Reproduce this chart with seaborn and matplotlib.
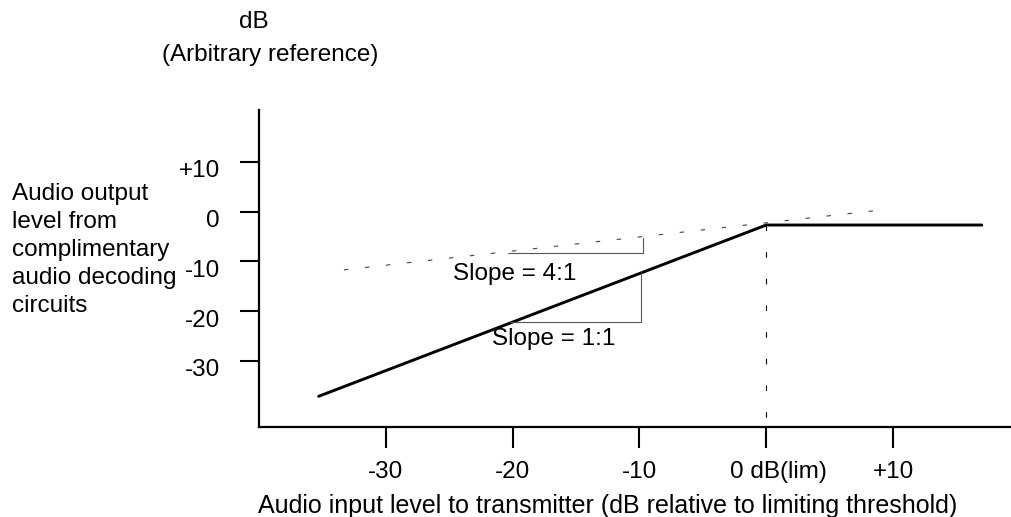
import numpy as np
import pandas as pd
import seaborn as sns
import matplotlib.pyplot as plt
import matplotlib.transforms as mtransforms

# limiter transfer curve (dB)
input_db = [-35.3, 0, 17]
output_db = [-37.1, -2.7, -2.7]

# 4:1 reference line (dashed)
ref_input_db = [-33.3, 9.7]
ref_output_db = [-11.7, 0.5]

# threshold marker
thr_input_db = [0, 0]
thr_output_db = [-2.7, -43.2]

# slope triangles
tri41_x = [-20.4, -9.75, -9.75]
tri41_y = [-8.3, -8.3, -5.3]
tri11_x = [-20.2, -9.84, -9.84]
tri11_y = [-22.1, -22.1, -12.3]

x_ticks = [-30, -20, -10, 0, 10]
x_tick_labels = ['-30', '-20', '-10', '0 dB(lim)', '+10']
y_ticks = [10, 0, -10, -20, -30]
y_tick_labels = ['+10', '0', '-10', '-20', '-30']

sns.set_theme(style='ticks')
plt.rcParams['font.family'] = ['Liberation Sans', 'DejaVu Sans']
plt.rcParams['text.color'] = 'black'
fs = 17.5

fig = plt.figure(figsize=(10.11, 5.17), dpi=100)
ax = fig.add_axes([259 / 1011, 1 - 426.7 / 517, (1011 - 259) / 1011, (426.7 - 110) / 517])

curve = pd.DataFrame({'input': input_db, 'output': output_db})
sns.lineplot(data=curve, x='input', y='output', ax=ax, color='black', lw=2.1,
             sort=False, estimator=None)
sns.lineplot(x=ref_input_db, y=ref_output_db, ax=ax, color='#444444', lw=0.8,
             linestyle=(0, (4, 15)), sort=False, estimator=None)
sns.lineplot(x=thr_input_db, y=thr_output_db, ax=ax, color='black', lw=0.8,
             linestyle=(0, (5, 19)), sort=False, estimator=None)
sns.lineplot(x=tri41_x, y=tri41_y, ax=ax, color='#555555', lw=0.8, sort=False, estimator=None)
sns.lineplot(x=tri11_x, y=tri11_y, ax=ax, color='#555555', lw=0.8, sort=False, estimator=None)

ax.text(-19.8, -12.5, 'Slope = 4:1', fontsize=fs, ha='center', va='center', color='black')
ax.text(-16.8, -25.6, 'Slope = 1:1', fontsize=fs, ha='center', va='center', color='black')

ax.set_xlim(-40, 19.3)
ax.set_ylim(-43.2, 20.4)
ax.set_xticks(x_ticks)
ax.set_xticklabels(x_tick_labels)
ax.set_yticks(y_ticks)
ax.set_yticklabels(y_tick_labels)
ax.set_xlabel('')
ax.set_ylabel('')

for side in ['top', 'right']:
    ax.spines[side].set_visible(False)
for side in ['left', 'bottom']:
    ax.spines[side].set_linewidth(1.6)
    ax.spines[side].set_color('black')

ax.tick_params(axis='x', direction='out', length=15, width=1.5, pad=10, labelsize=fs, colors='black')
ax.tick_params(axis='y', direction='out', length=14, width=1.5, pad=14, labelsize=fs, colors='black')

# y labels sit a little below their ticks in the original
down = mtransforms.ScaledTranslation(0, -5 / 72, fig.dpi_scale_trans)
for lab in ax.get_yticklabels():
    lab.set_transform(lab.get_transform() + down)
right = mtransforms.ScaledTranslation(9 / 72, 0, fig.dpi_scale_trans)
ax.get_xticklabels()[3].set_transform(ax.get_xticklabels()[3].get_transform() + right)

fig.text(12 / 1011, 1 - 183 / 517,
         'Audio output\nlevel from\ncomplimentary\naudio decoding\ncircuits',
         fontsize=fs, ha='left', va='top', linespacing=1.36, color='black')
fig.text(254 / 1011, 1 - 22.5 / 517, 'dB', fontsize=fs, ha='center', va='center', color='black')
fig.text(270 / 1011, 1 - 55 / 517, '(Arbitrary reference)', fontsize=fs, ha='center',
         va='center', color='black')
fig.text(608 / 1011, 1 - 506 / 517,
         'Audio input level to transmitter (dB relative to limiting threshold)',
         fontsize=18, ha='center', va='center', color='black')

plt.savefig('out.png', dpi=100)
